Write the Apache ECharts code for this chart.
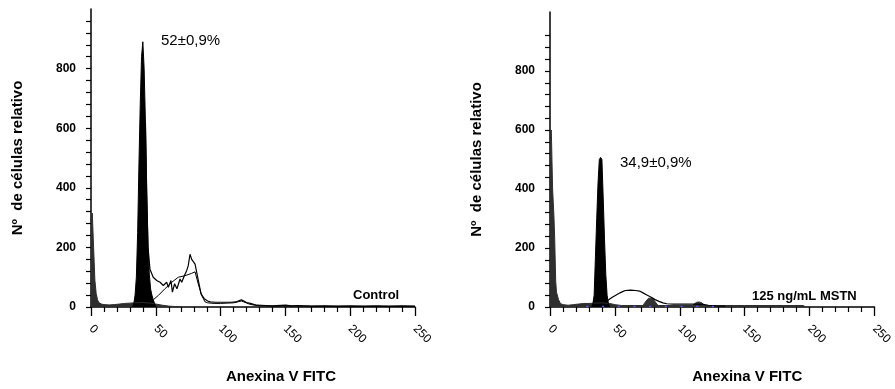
<!DOCTYPE html>
<html>
<head>
<meta charset="utf-8">
<script src="https://cdn.jsdelivr.net/npm/echarts@6/dist/echarts.min.js"></script>
<style>
html,body{margin:0;padding:0;background:#fff;}
#chart{width:895px;height:389px;}
</style>
</head>
<body>
<div id="chart"></div>
<script>
// ---------- data ----------
const xTickValues = [0, 50, 100, 150, 200, 250];
const yLabelValues = [0, 200, 400, 600, 800];
const yTicksLeft = [0,40,80,120,160,200,240,280,320,360,400,440,480,520,560,600,640,680,720,760,800,840,880,920,960];
const yTicksRight = [0,40,80,120,160,200,240,280,320,360,400,440,480,520,560,600,640,680,720,760,800,840,880,920];

const xAxisTitle = 'Anexina V FITC';
const yAxisTitle = 'Nº  de células relativo';
const leftPct = '52±0,9%';
const rightPct = '34,9±0,9%';
const leftTag = 'Control';
const rightTag = '125 ng/mL MSTN';

// Control (left)
const ctrlDebrisX = [0,1,2,3,4,5,6,8,10,14,18,22,26,30,34,40,46,50,55,60,70];
const ctrlDebrisY = [290,315,200,90,45,25,15,10,8,7,8,10,12,13,14,15,13,10,6,3,0];
const ctrlG1X = [32,33,34,35,36,37,38,39,40,41,42,43,44,45,46,47,48,49,50];
const ctrlG1Y = [0,10,40,100,250,480,680,840,890,800,620,380,200,110,60,40,25,12,0];
const ctrlDataX = [42,43,44,45.5,48,50.7,53.3,55.8,58.4,59.7,61.7,62.8,64.5,66.3,68.7,70,72,73.8,75,76.4,77.7,79,80.3,82.8,84.9,87.4,90,92,96,100,104,108,112,114,116,118,120,123,128,135,140,150,155,160,170,180,190,200,210,220,230,240,250];
const ctrlDataY = [620,380,200,127,100,89,83,72,83,66,89,50,78,61,94,83,105,122,138,177,160,166,144,89,44,28,20,17,16,16,16,16,17,21,24,20,15,12,6,5,4,6,4,5,3,4,3,4,3,4,3,4,3];
const ctrlFitX = [48,52,57,62.3,67.4,72.5,77.7,80.3,82.8,85.4,88,90,95,100,105,110,114,116,118,122,126,130,140,160,200,250];
const ctrlFitY = [24,39,61,83,100,105,113,118,77,39,17,14,12,12,13,14,18,20,17,10,6,4,3,3,2,2];

// 125 ng/mL MSTN (right)
const mstnDebrisX = [0,1,2,3,3.6,4.4,5,6.6,8,10,14,18,22,26,30,34,40,46,50,55,60,100,150,195,197];
const mstnDebrisY = [590,600,400,310,232,87,50,25,12,8,6,8,10,12,12,13,14,12,8,5,5,5,5,5,0];
const mstnG1X = [32,33,34,35,36,37,38,39,40,41,42,43,44,45,46];
const mstnG1Y = [0,10,40,170,300,420,500,507,500,370,230,110,40,12,0];
const mstnG2X = [70,72,74,76,77.5,79,81,83,85,109,111,113,115,117,119,121];
const mstnG2Y = [0,8,20,30,33,30,18,6,0,0,10,16,17,14,6,0];
const mstnFitX = [44,46,48,50,52,54,56,58,62,66,69,72,75,78,81,84,87,90,95,100,110,118,122,128,135];
const mstnFitY = [20,27,33,38,43,48,52,56,57,56,54,47,40,33,25,19,14,11,10,10,10,9,6,4,3];
const mstnDotX = [28,134];
const mstnDotY = [2,2];

// ---------- helpers ----------
function pairs(xs, ys){ return xs.map((x,i)=>[x, ys[i]]); }
const FONT = '"Liberation Sans", Arial, sans-serif';

function xAxisDef(gi, shift){
  return {
    type:'value', gridIndex:gi, min:0, max:250, interval:50,
    axisLine:{show:true, onZero:false, lineStyle:{color:'#000', width:1.5}},
    axisTick:{show:true, length:9, lineStyle:{color:'#000', width:1.3}},
    minorTick:{show:true, splitNumber:5, length:5, lineStyle:{color:'#000', width:1.2}},
    splitLine:{show:false},
    axisLabel:{rotate:-45, margin:20, color:'#000', fontFamily:FONT, fontSize:12},
    name:xAxisTitle, nameLocation:'middle', nameGap:62,
    nameTextStyle:{color:'#000', fontFamily:FONT, fontWeight:'bold', fontSize:15, padding:[0,0,0,shift]}
  };
}
function yAxisDef(gi, ticks){
  return {
    type:'value', gridIndex:gi, min:0, max:1000,
    axisLine:{show:true, lineStyle:{color:'#000', width:1.5}},
    axisTick:{show:true, length:5, customValues:ticks, lineStyle:{color:'#000', width:1.2}},
    splitLine:{show:false},
    axisLabel:{customValues:yLabelValues, margin:15, color:'#000', fontFamily:FONT, fontWeight:'bold', fontSize:12},
    name:yAxisTitle, nameLocation:'middle', nameGap:66,
    nameTextStyle:{color:'#000', fontFamily:FONT, fontWeight:'bold', fontSize:15}
  };
}
function area(name, gi, xs, ys, color){
  return {type:'line', name, xAxisIndex:gi, yAxisIndex:gi, data:pairs(xs,ys), showSymbol:false, silent:true,
    lineStyle:{color:color, width:1}, areaStyle:{color:color, opacity:1}, animation:false};
}
function line(name, gi, xs, ys, color, width, type){
  return {type:'line', name, xAxisIndex:gi, yAxisIndex:gi, data:pairs(xs,ys), showSymbol:false, silent:true,
    lineStyle:{color:color, width:width, type:type||'solid'}, animation:false};
}

const chart = echarts.init(document.getElementById('chart'), null, {renderer:'canvas'});
chart.setOption({
  backgroundColor:'#fff',
  animation:false,
  grid:[
    {left:91, top:9, width:324, height:301},
    {left:550, top:12, width:328, height:297}
  ],
  xAxis:[xAxisDef(0,56), xAxisDef(1,70)],
  yAxis:[yAxisDef(0,yTicksLeft), yAxisDef(1,yTicksRight)],
  series:[
    area('ctrlDebris',0,ctrlDebrisX,ctrlDebrisY,'#2e2e2e'),
    area('ctrlG1',0,ctrlG1X,ctrlG1Y,'#000'),
    line('ctrlFit',0,ctrlFitX,ctrlFitY,'#000',1),
    line('ctrlData',0,ctrlDataX,ctrlDataY,'#000',1.2),
    area('mstnDebris',1,mstnDebrisX,mstnDebrisY,'#2e2e2e'),
    area('mstnG1',1,mstnG1X,mstnG1Y,'#000'),
    area('mstnG2',1,mstnG2X,mstnG2Y,'#333'),
    line('mstnFit',1,mstnFitX,mstnFitY,'#000',1.2),
    line('mstnDot',1,mstnDotX,mstnDotY,'#5a5aff',1.5,[2,13.7])
  ],
  graphic:[
    {type:'text', left:161, top:33, style:{text:leftPct, font:'15px ' + FONT, fill:'#000'}},
    {type:'text', left:620, top:155, style:{text:rightPct, font:'15px ' + FONT, fill:'#000'}},
    {type:'text', left:353, top:289, style:{text:leftTag, font:'bold 13px ' + FONT, fill:'#000'}},
    {type:'text', left:752, top:290, style:{text:rightTag, font:'bold 13px ' + FONT, fill:'#000'}}
  ]
});
</script>
</body>
</html>
